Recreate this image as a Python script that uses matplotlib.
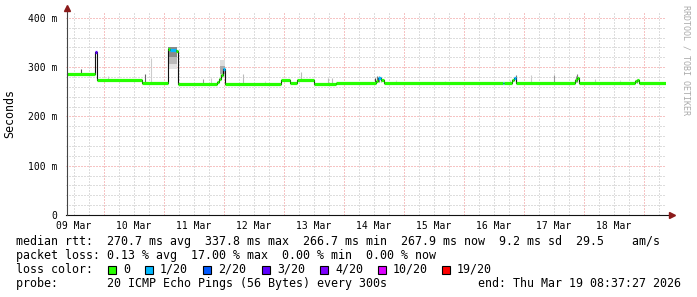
import matplotlib
matplotlib.use("Agg")
import matplotlib.pyplot as plt
from matplotlib.patches import Rectangle

# time in hours since 09 Mar 00:00
t_start, t_end = 8.62, 248.62

# median rtt segments: start hour, value (ms), loss (x/20)
seg_t = [9.2, 20.4, 21.2, 39.2, 49.6, 50.4, 53.0, 53.6, 69.2, 70.0, 70.8, 71.6,
         72.4, 94.8, 98.4, 101.2, 108.0, 116.8, 132.8, 133.6, 134.8, 136.0,
         183.6, 184.0, 187.2, 188.0, 188.8, 212.4, 213.2, 214.0, 236.4, 237.2, 238.0]
seg_ms = [286, 331, 274, 268.5, 336, 334, 333, 266.7, 270, 276, 284, 296,
          266.7, 275, 268, 275, 266.5, 268, 272, 278, 274, 268,
          268, 268, 273, 278, 268, 273, 279, 268, 272, 275, 268]
seg_loss = [0, 3, 0, 0, 0, 1, 0, 0, 0, 0, 0, 1,
            0, 0, 0, 0, 0, 0, 0, 1, 0, 0,
            1, 0, 0, 1, 0, 0, 0, 0, 0, 0, 0]

# smoke spikes: hour, low, high, shade
smoke_t = [14.8, 25.6, 40.4, 42.8, 63.6, 66.8, 79.6, 88.4, 102.8, 113.6, 115.2,
           132.4, 133.2, 134.0, 134.8, 140.8, 160.4, 186.4, 188.8, 194.8, 204.0,
           212.8, 213.2, 220.4, 230.4, 237.2]
smoke_lo = [286, 274, 269, 269, 267, 267, 267, 267, 275, 268, 268,
            270, 272, 270, 270, 268, 268, 268, 270, 268, 268,
            270, 270, 268, 268, 268]
smoke_hi = [296, 282, 286, 319, 276, 278, 286, 272, 290, 278, 278,
            278, 283, 283, 280, 274, 272, 275, 284, 284, 285,
            283, 286, 276, 273, 277]
smoke_col = ["#555555", "#cccccc", "#666666", "#cccccc", "#999999", "#cccccc",
             "#bbbbbb", "#dddddd", "#bbbbbb", "#bbbbbb", "#bbbbbb",
             "#444444", "#777777", "#888888", "#aaaaaa", "#dddddd", "#dddddd",
             "#cccccc", "#777777", "#cccccc", "#999999", "#888888", "#777777",
             "#cccccc", "#dddddd", "#888888"]

# smoke bands over the high-latency periods: t0, t1, low, high, shade
band_t0 = [49.8, 49.8, 49.8, 70.4, 70.4]
band_t1 = [53.4, 53.4, 53.4, 72.6, 72.6]
band_lo = [296, 306, 320, 280, 286]
band_hi = [306, 320, 341, 315, 302]
band_col = ["#e2e2e2", "#bbbbbb", "#8a8a8a", "#dddddd", "#aaaaaa"]

loss_labels = ["0", "1/20", "2/20", "3/20", "4/20", "10/20", "19/20"]
loss_colors = ["#26ff00", "#00b8ff", "#0059ff", "#5e00ff", "#7e00ff", "#dd00ff", "#ff0000"]
loss_idx = {0: 0, 1: 1, 2: 2, 3: 3, 4: 4}

day_labels = ["09 Mar", "10 Mar", "11 Mar", "12 Mar", "13 Mar",
              "14 Mar", "15 Mar", "16 Mar", "17 Mar", "18 Mar"]
y_ticks = [0, 100, 200, 300, 400]
y_labels = ["0", "100 m", "200 m", "300 m", "400 m"]

W, H = 697, 297
mono = "DejaVu Sans Mono"
fig = plt.figure(figsize=(W / 100, H / 100), dpi=100)
ax = fig.add_axes([65.5 / W, (H - 215) / H, 600 / W, 202 / H])
ax.set_xlim(t_start, t_end)
ax.set_ylim(0, 410)

# grid (dotted)
grid_kw = dict(lw=0.72, ls=(0, (1, 2)), snap=True, zorder=0)
for h in range(0, 252, 6):
    if t_start < h < t_end:
        major = h % 24 == 0
        ax.axvline(h, color="#ee8888" if major else "#bdbdbd", **grid_kw)
for v in range(20, 420, 20):
    major = v % 100 == 0
    ax.axhline(v, color="#ee8888" if major else "#bdbdbd", **grid_kw)

# smoke
for t0, t1, lo, hi, c in zip(band_t0, band_t1, band_lo, band_hi, band_col):
    ax.fill_between([t0, t1], lo, hi, color=c, lw=0, zorder=1)
ax.vlines(smoke_t, smoke_lo, smoke_hi, colors=smoke_col, lw=0.8, zorder=1)

# median line
edges = seg_t + [t_end]
ax.step(edges, seg_ms + [seg_ms[-1]], where="post", color="#111111", lw=0.8, zorder=2)
ax.hlines(seg_ms, edges[:-1], edges[1:],
          colors=[loss_colors[loss_idx[l]] for l in seg_loss], lw=2.3, zorder=3)

# axes
for s in ax.spines.values():
    s.set_visible(False)
ax.plot([0, 1.01], [0, 0], transform=ax.transAxes, color="#111111", lw=0.8, clip_on=False, zorder=4)
ax.plot([0.0025, 0.0025], [0, 1.02], transform=ax.transAxes, color="#444444", lw=0.8, clip_on=False, zorder=4)
ax.plot([1.01], [0], transform=ax.transAxes, marker=">", ms=4, color="#8b1a1a", clip_on=False, zorder=5)
ax.plot([0.0025], [1.025], transform=ax.transAxes, marker="^", ms=4, color="#8b1a1a", clip_on=False, zorder=5)

ax.set_xticks([12 + 24 * i for i in range(len(day_labels))])
ax.set_xticklabels(day_labels, family=mono, fontsize=7)
ax.set_yticks(y_ticks)
ax.set_yticklabels(y_labels, family=mono, fontsize=7)
ax.tick_params(length=0, pad=4)
ax.tick_params(axis="y", pad=6)
ax.set_ylabel("Seconds", family=mono, fontsize=8.4)
ax.yaxis.set_label_coords(-49 / 600, 0.5)

fig.text(686 / W, 1 - 5 / H, "RRDTOOL / TOBI OETIKER", rotation=270, family=mono,
         fontsize=6, color="#aaaaaa", ha="center", va="top")

def fx(px):
    return px / W

def fy(py):
    return 1 - py / H

fs = 8.4
fig.text(fx(16), fy(241.5), "median rtt:  270.7 ms avg  337.8 ms max  266.7 ms min  267.9 ms now  9.2 ms sd  29.5    am/s",
         family=mono, fontsize=fs, va="center")
fig.text(fx(16), fy(255.5), "packet loss: 0.13 % avg  17.00 % max  0.00 % min  0.00 % now",
         family=mono, fontsize=fs, va="center")
fig.text(fx(16), fy(269.5), "loss color:", family=mono, fontsize=fs, va="center")
sq_x = [108, 145, 203, 262, 320, 378, 442]
for x, lab, c in zip(sq_x, loss_labels, loss_colors):
    fig.patches.append(Rectangle((fx(x), fy(273.5)), 8 / W, 8 / H, transform=fig.transFigure,
                                 facecolor=c, edgecolor="black", lw=0.8))
    fig.text(fx(x + 15), fy(269.5), lab, family=mono, fontsize=fs, va="center")
fig.text(fx(16), fy(283.5), "probe:       20 ICMP Echo Pings (56 Bytes) every 300s",
         family=mono, fontsize=fs, va="center")
fig.text(fx(681), fy(283.5), "end: Thu Mar 19 08:37:27 2026", family=mono, fontsize=fs,
         va="center", ha="right")

fig.savefig("out.png", dpi=100)
